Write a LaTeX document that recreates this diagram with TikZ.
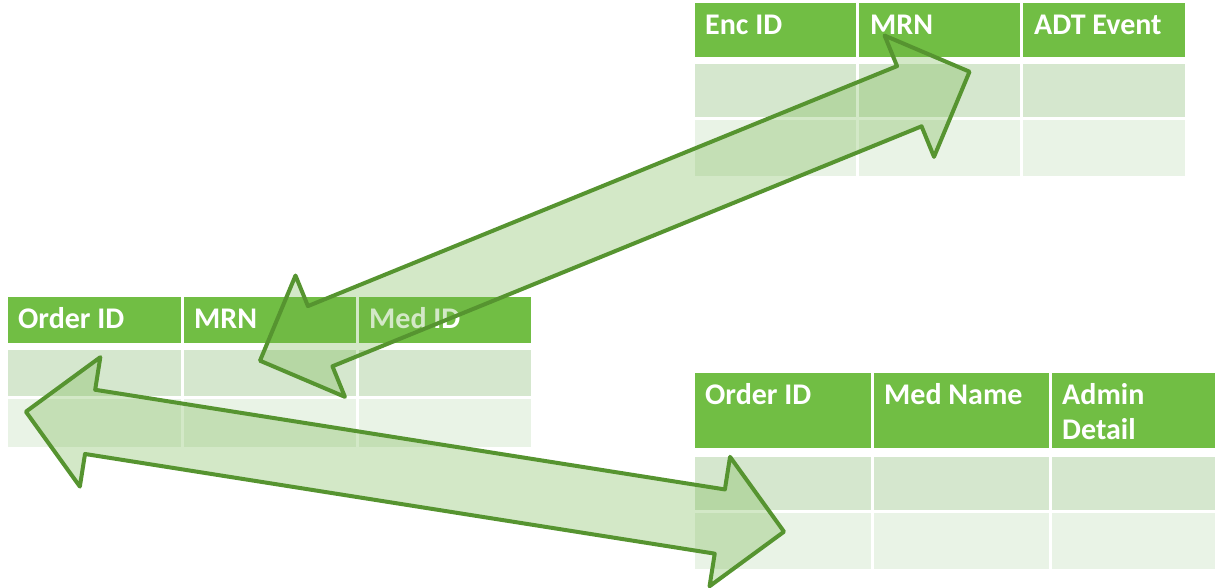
\documentclass[tikz,border=0pt]{standalone}
\usepackage{fontspec}
\setmainfont{Carlito}
\usetikzlibrary{calc}
\definecolor{hdr}{RGB}{113,190,68}
\definecolor{rowa}{RGB}{213,231,206}
\definecolor{rowb}{RGB}{233,243,230}
\definecolor{arrfill}{RGB}{112,180,70}
\definecolor{arredge}{RGB}{86,148,48}
\tikzset{
 cell/.style={inner sep=0pt, outer sep=0pt, anchor=north west, draw=none},
 hcell/.style={cell, fill=hdr},
 raonecell/.style={cell, fill=rowa},
 rtwocell/.style={cell, fill=rowb},
 htext/.style={anchor=base west, inner sep=0pt, text=white, font=\fontsize{30}{35}\selectfont\bfseries},
 blockarrow/.style={draw=arredge, line width=4pt, fill=arrfill, fill opacity=0.3, draw opacity=1, line join=round},
}
\newcommand\tcell[6]{\node[#1, minimum width={(#5-#3)*1pt}, minimum height={(#6-#4)*1pt}] (#2) at (#3,#4) {};}
\newcommand\dblarrow[2]{%
 \coordinate (#1#2ha) at ($(#1)!65pt!(#2)$);
 \coordinate (#1#2hb) at ($(#2)!65pt!(#1)$);
 \draw[blockarrow] (#1) -- ($(#1#2ha)!65.5pt!90:(#2)$) -- ($(#1#2ha)!32.5pt!90:(#2)$)
   -- ($(#1#2hb)!32.5pt!-90:(#1)$) -- ($(#1#2hb)!65.5pt!-90:(#1)$) -- (#2)
   -- ($(#1#2hb)!65.5pt!90:(#1)$) -- ($(#1#2hb)!32.5pt!90:(#1)$)
   -- ($(#1#2ha)!32.5pt!-90:(#2)$) -- ($(#1#2ha)!65.5pt!-90:(#2)$) -- cycle;
}
\begin{document}
\begin{tikzpicture}[x=1pt,y=-1pt]
\useasboundingbox[fill=white] (0,0) rectangle (1215,588);
% top table
\tcell{hcell}{th1}{695}{3}{856}{57}
\tcell{hcell}{th2}{859}{3}{1020}{57}
\tcell{hcell}{th3}{1023}{3}{1185}{57}
\tcell{raonecell}{ta1}{695}{64}{856}{117}
\tcell{raonecell}{ta2}{859}{64}{1020}{117}
\tcell{raonecell}{ta3}{1023}{64}{1185}{117}
\tcell{rtwocell}{tb1}{695}{120}{856}{176}
\tcell{rtwocell}{tb2}{859}{120}{1020}{176}
\tcell{rtwocell}{tb3}{1023}{120}{1185}{176}
% left table
\tcell{hcell}{lh1}{8}{297}{181}{343}
\tcell{hcell}{lh2}{184}{297}{356}{343}
\tcell{hcell}{lh3}{359}{297}{531}{343}
\tcell{raonecell}{la1}{8}{350}{181}{396}
\tcell{raonecell}{la2}{184}{350}{356}{396}
\tcell{raonecell}{la3}{359}{350}{531}{396}
\tcell{rtwocell}{lb1}{8}{399}{181}{447}
\tcell{rtwocell}{lb2}{184}{399}{356}{447}
\tcell{rtwocell}{lb3}{359}{399}{531}{447}
% bottom table
\tcell{hcell}{bh1}{695}{373}{871}{448}
\tcell{hcell}{bh2}{874}{373}{1049}{448}
\tcell{hcell}{bh3}{1052}{373}{1215}{448}
\tcell{raonecell}{ba1}{695}{457}{871}{510}
\tcell{raonecell}{ba2}{874}{457}{1049}{510}
\tcell{raonecell}{ba3}{1052}{457}{1215}{510}
\tcell{rtwocell}{bb1}{695}{513}{871}{569}
\tcell{rtwocell}{bb2}{874}{513}{1049}{569}
\tcell{rtwocell}{bb3}{1052}{513}{1215}{569}
% header texts
\node[htext] (tt1) at ($(th1.north west)+(10,31.5)$) {Enc ID};
\node[htext] (tt2) at ($(th2.north west)+(11,31.5)$) {MRN};
\node[htext] (tt3) at ($(th3.north west)+(11,31.5)$) {ADT Event};
\node[htext] (lt1) at ($(lh1.north west)+(10,31.5)$) {Order ID};
\node[htext] (lt2) at ($(lh2.north west)+(10,31.5)$) {MRN};
\node[htext] (lt3) at ($(lh3.north west)+(10,31.5)$) {Med ID};
\node[htext] (bt1) at ($(bh1.north west)+(10,31.5)$) {Order ID};
\node[htext] (bt2) at ($(bh2.north west)+(10,31.5)$) {Med Name};
\node[htext] (bt3) at ($(bh3.north west)+(10,31.5)$) {Admin};
\node[htext] (bt3b) at ($(bh3.north west)+(10,66.5)$) {Detail};
% arrows
\coordinate (aones) at (260,360.7);
\coordinate (aonee) at (969.5,71.7);
\coordinate (atwos) at (25.9,411.7);
\coordinate (atwoe) at (784,531.7);
\dblarrow{aones}{aonee}
\dblarrow{atwos}{atwoe}
\end{tikzpicture}
\end{document}
